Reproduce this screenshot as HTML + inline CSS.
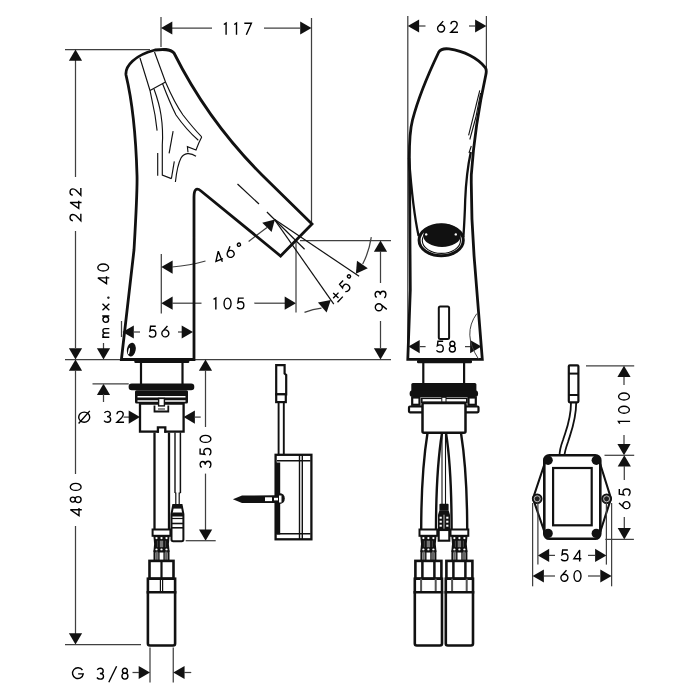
<!DOCTYPE html>
<html><head><meta charset="utf-8"><style>
html,body{margin:0;padding:0;background:#fff;width:700px;height:700px;overflow:hidden}
svg{display:block}
text{font-family:"Liberation Sans",sans-serif}
svg{will-change:transform}
</style></head><body>
<svg width="700" height="700" viewBox="0 0 700 700">
<rect width="700" height="700" fill="#fff"/>
<line x1="161" y1="17" x2="161" y2="47" stroke="#404040" stroke-width="1.25"/>
<line x1="311.5" y1="18" x2="311.5" y2="223" stroke="#404040" stroke-width="1.25"/>
<line x1="172" y1="28" x2="212" y2="28" stroke="#404040" stroke-width="1.25"/>
<line x1="264" y1="28" x2="300" y2="28" stroke="#404040" stroke-width="1.25"/>
<path d="M161.00,28.00 L172.30,21.40 L172.30,34.60 Z" fill="#111"/>
<path d="M311.50,28.00 L300.20,34.60 L300.20,21.40 Z" fill="#111"/>
<g transform="translate(237.5,28.7) rotate(0)" fill="none" stroke="#000" stroke-width="1.38" stroke-miterlimit="3"><path transform="translate(-14.30,-6.10)" d="M0.6,1.9 L2.9,0.5 L2.9,12.2"/><path transform="translate(-3.90,-6.10)" d="M0.6,1.9 L2.9,0.5 L2.9,12.2"/><path transform="translate(6.50,-6.10)" d="M0.3,0.7 L7.4,0.7 L2.3,12.2"/></g>
<line x1="65" y1="49.5" x2="150" y2="49.5" stroke="#404040" stroke-width="1.25"/>
<line x1="75.5" y1="60" x2="75.5" y2="177" stroke="#404040" stroke-width="1.25"/>
<line x1="75.5" y1="231" x2="75.5" y2="348" stroke="#404040" stroke-width="1.25"/>
<path d="M75.50,49.50 L82.10,60.80 L68.90,60.80 Z" fill="#111"/>
<path d="M75.50,359.50 L68.90,348.20 L82.10,348.20 Z" fill="#111"/>
<g transform="translate(75.45,204.85) rotate(-90)" fill="none" stroke="#000" stroke-width="1.38" stroke-miterlimit="3"><path transform="translate(-16.80,-6.10)" d="M0.9,3.5 C1.0,1.7 2.4,0.7 4.1,0.7 C6.0,0.7 7.2,1.9 7.2,3.6 C7.2,4.8 6.7,5.7 5.8,6.7 L0.8,11.5 L8.0,11.5"/><path transform="translate(-4.00,-6.10)" d="M8.0,9.4 L0.5,9.4 L6.3,0.8 L6.3,12.2"/><path transform="translate(8.80,-6.10)" d="M0.9,3.5 C1.0,1.7 2.4,0.7 4.1,0.7 C6.0,0.7 7.2,1.9 7.2,3.6 C7.2,4.8 6.7,5.7 5.8,6.7 L0.8,11.5 L8.0,11.5"/></g>
<line x1="65" y1="359.5" x2="391" y2="359.5" stroke="#404040" stroke-width="1.25"/>
<path d="M75.50,359.50 L82.10,370.80 L68.90,370.80 Z" fill="#111"/>
<line x1="75.5" y1="370" x2="75.5" y2="474" stroke="#404040" stroke-width="1.25"/>
<line x1="75.5" y1="526" x2="75.5" y2="634" stroke="#404040" stroke-width="1.25"/>
<path d="M75.50,644.50 L68.90,633.20 L82.10,633.20 Z" fill="#111"/>
<g transform="translate(75.7,499.4) rotate(-90)" fill="none" stroke="#000" stroke-width="1.38" stroke-miterlimit="3"><path transform="translate(-16.70,-6.10)" d="M8.0,9.4 L0.5,9.4 L6.3,0.8 L6.3,12.2"/><path transform="translate(-3.90,-6.10)" d="M1.20,3.2 A2.5,2.5 0 1 0 6.20,3.2 A2.5,2.5 0 1 0 1.20,3.2 Z M0.70,8.5 A3.0,3.0 0 1 0 6.70,8.5 A3.0,3.0 0 1 0 0.70,8.5 Z"/><path transform="translate(8.30,-6.10)" d="M0.70,6.1 A3.5,5.4 0 1 0 7.70,6.1 A3.5,5.4 0 1 0 0.70,6.1 Z"/></g>
<line x1="65" y1="644.5" x2="141" y2="644.5" stroke="#404040" stroke-width="1.25"/>
<g transform="translate(103.2,300.6) rotate(-90)" fill="none" stroke="#000" stroke-width="1.38" stroke-miterlimit="3"><path transform="translate(-37.35,-6.10)" d="M0.7,5.1 L0.7,12.2 M0.7,8.0 C0.7,6.6 1.5,5.8 2.8,5.8 C4.1,5.8 5.0,6.6 5.0,8.0 L5.0,12.2 M5.0,8.0 C5.0,6.6 5.9,5.8 7.2,5.8 C8.5,5.8 9.3,6.6 9.3,8.0 L9.3,12.2"/><path transform="translate(-22.85,-6.10)" d="M1.05,8.65 A2.85,2.85 0 1 0 6.75,8.65 A2.85,2.85 0 1 0 1.05,8.65 Z M7.4,5.1 L7.4,12.2"/><path transform="translate(-10.25,-6.10)" d="M0.5,5.4 L7.2,12.2 M7.2,5.4 L0.5,12.2"/><path transform="translate(1.95,-6.10)" d="M0.55,11.3 A0.45,0.45 0 1 0 1.45,11.3 A0.45,0.45 0 1 0 0.55,11.3 Z"/><path transform="translate(16.45,-6.10)" d="M8.0,9.4 L0.5,9.4 L6.3,0.8 L6.3,12.2"/><path transform="translate(28.95,-6.10)" d="M0.70,6.1 A3.5,5.4 0 1 0 7.70,6.1 A3.5,5.4 0 1 0 0.70,6.1 Z"/></g>
<line x1="103.5" y1="343" x2="103.5" y2="349" stroke="#404040" stroke-width="1.25"/>
<path d="M103.50,359.50 L96.90,348.20 L110.10,348.20 Z" fill="#111"/>
<path d="M103.50,383.75 L110.10,395.05 L96.90,395.05 Z" fill="#111"/>
<line x1="103.5" y1="394" x2="103.5" y2="402" stroke="#404040" stroke-width="1.25"/>
<line x1="92.5" y1="383.75" x2="128.75" y2="383.75" stroke="#404040" stroke-width="1.25"/>
<line x1="121.5" y1="321" x2="121.5" y2="337" stroke="#404040" stroke-width="1.25"/>
<path d="M122.50,332.00 L133.80,325.40 L133.80,338.60 Z" fill="#111"/>
<line x1="133" y1="332" x2="140" y2="332" stroke="#404040" stroke-width="1.25"/>
<g transform="translate(159,331.7) rotate(0)" fill="none" stroke="#000" stroke-width="1.38" stroke-miterlimit="3"><path transform="translate(-10.45,-6.10)" d="M7.2,0.7 L2.0,0.7 L1.4,5.3 C2.2,4.7 3.2,4.4 4.2,4.4 C6.3,4.4 7.3,5.9 7.3,7.9 C7.3,10.1 5.9,11.5 3.9,11.5 C2.5,11.5 1.3,10.9 0.5,9.9"/><path transform="translate(2.25,-6.10)" d="M0.60,7.8 A3.5,3.5 0 1 0 7.60,7.8 A3.5,3.5 0 1 0 0.60,7.8 Z M6.2,0.4 L1.1,6.0"/></g>
<line x1="178" y1="332" x2="182" y2="332" stroke="#404040" stroke-width="1.25"/>
<path d="M193.00,332.00 L181.70,338.60 L181.70,325.40 Z" fill="#111"/>
<line x1="161.3" y1="254" x2="161.3" y2="313.5" stroke="#404040" stroke-width="1.25"/>
<path d="M161.30,267.10 L172.60,260.50 L172.60,273.70 Z" fill="#111"/>
<path d="M172,267 Q190,265.5 205.5,261" fill="none" stroke="#404040" stroke-width="1.25" />
<g transform="translate(228.3,253.0) rotate(-21)" fill="none" stroke="#000" stroke-width="1.38" stroke-miterlimit="3"><path transform="translate(-15.00,-6.10)" d="M8.0,9.4 L0.5,9.4 L6.3,0.8 L6.3,12.2"/><path transform="translate(-2.20,-6.10)" d="M0.60,7.8 A3.5,3.5 0 1 0 7.60,7.8 A3.5,3.5 0 1 0 0.60,7.8 Z M6.2,0.4 L1.1,6.0"/><path transform="translate(10.80,-6.10)" d="M0.50,2.2 A1.6,1.6 0 1 0 3.70,2.2 A1.6,1.6 0 1 0 0.50,2.2 Z"/></g>
<line x1="248.6" y1="241.4" x2="267" y2="227.4" stroke="#404040" stroke-width="1.25"/>
<path d="M274.90,219.40 L271.58,232.06 L262.24,222.72 Z" fill="#111"/>
<path d="M161.30,303.20 L172.60,296.60 L172.60,309.80 Z" fill="#111"/>
<line x1="172" y1="303.2" x2="201.5" y2="303.2" stroke="#404040" stroke-width="1.25"/>
<g transform="translate(228.7,303.5) rotate(0)" fill="none" stroke="#000" stroke-width="1.38" stroke-miterlimit="3"><path transform="translate(-15.75,-6.10)" d="M0.6,1.9 L2.9,0.5 L2.9,12.2"/><path transform="translate(-5.35,-6.10)" d="M0.70,6.1 A3.5,5.4 0 1 0 7.70,6.1 A3.5,5.4 0 1 0 0.70,6.1 Z"/><path transform="translate(7.85,-6.10)" d="M7.2,0.7 L2.0,0.7 L1.4,5.3 C2.2,4.7 3.2,4.4 4.2,4.4 C6.3,4.4 7.3,5.9 7.3,7.9 C7.3,10.1 5.9,11.5 3.9,11.5 C2.5,11.5 1.3,10.9 0.5,9.9"/></g>
<line x1="254.3" y1="303.2" x2="285" y2="303.2" stroke="#404040" stroke-width="1.25"/>
<path d="M296.00,303.20 L284.70,309.80 L284.70,296.60 Z" fill="#111"/>
<line x1="296" y1="240.5" x2="296" y2="312.5" stroke="#404040" stroke-width="1.25"/>
<line x1="300" y1="240.5" x2="391" y2="240.5" stroke="#404040" stroke-width="1.25"/>
<path d="M380.50,240.50 L387.10,251.80 L373.90,251.80 Z" fill="#111"/>
<line x1="380.5" y1="251" x2="380.5" y2="283" stroke="#404040" stroke-width="1.25"/>
<g transform="translate(380.5,301) rotate(-90)" fill="none" stroke="#000" stroke-width="1.38" stroke-miterlimit="3"><path transform="translate(-10.35,-6.10)" d="M0.60,4.4 A3.5,3.5 0 1 0 7.60,4.4 A3.5,3.5 0 1 0 0.60,4.4 Z M7.1,6.2 L2.0,12.4"/><path transform="translate(2.65,-6.10)" d="M0.9,2.3 C1.6,1.2 2.7,0.7 3.9,0.7 C5.7,0.7 6.8,1.8 6.8,3.3 C6.8,4.9 5.5,5.9 3.5,5.9 C6.0,5.9 7.1,7.2 7.1,8.8 C7.1,10.5 5.8,11.5 3.9,11.5 C2.5,11.5 1.2,10.9 0.5,9.9"/></g>
<line x1="380.5" y1="321" x2="380.5" y2="348" stroke="#404040" stroke-width="1.25"/>
<path d="M380.50,359.50 L373.90,348.20 L387.10,348.20 Z" fill="#111"/>
<line x1="274.4" y1="219.3" x2="359.1" y2="276.3" stroke="#111" stroke-width="1.2"/>
<line x1="274.4" y1="219.3" x2="333.8" y2="304.2" stroke="#111" stroke-width="1.2"/>
<line x1="266.9" y1="212" x2="304.6" y2="249.3" stroke="#111" stroke-width="1.2"/>
<line x1="237.5" y1="184" x2="259" y2="204" stroke="#111" stroke-width="1.2"/>
<path d="M371.3,237.1 Q369,252 362.7,264" fill="none" stroke="#404040" stroke-width="1.25" />
<path d="M355.90,273.70 L356.98,260.66 L367.79,268.24 Z" fill="#111"/>
<path d="M304.5,312.3 Q313,309 321.5,308.1" fill="none" stroke="#404040" stroke-width="1.25" />
<path d="M330.80,300.00 L326.61,312.40 L317.94,302.44 Z" fill="#111"/>
<g transform="translate(343.2,288.3) rotate(-47)" fill="none" stroke="#000" stroke-width="1.38" stroke-miterlimit="3"><path transform="translate(-14.75,-6.10)" d="M4.5,2.0 L4.5,9.2 M0.6,5.6 L8.4,5.6 M0.6,11.5 L8.4,11.5"/><path transform="translate(-1.55,-6.10)" d="M7.2,0.7 L2.0,0.7 L1.4,5.3 C2.2,4.7 3.2,4.4 4.2,4.4 C6.3,4.4 7.3,5.9 7.3,7.9 C7.3,10.1 5.9,11.5 3.9,11.5 C2.5,11.5 1.3,10.9 0.5,9.9"/><path transform="translate(10.55,-6.10)" d="M0.50,2.2 A1.6,1.6 0 1 0 3.70,2.2 A1.6,1.6 0 1 0 0.50,2.2 Z"/></g>
<path d="M121.4,359.5 L134,250 C136,215 137.5,190 137,175 C136,140 132,100 126,75 C125,66 135,55 155,50 C163,49 170,48.5 174,53 C194,93 222,135 262,175 L312,224 L280.6,256 L201,191 C196,187 194,190 194,197 L194,359.5 Z" fill="none" stroke="#111" stroke-width="2.8" />
<path d="M140,58 L150,90.5 L155,115 L157.1,130.6" fill="none" stroke="#111" stroke-width="1.15" />
<path d="M154.5,52 L165.5,82 C172,97 178,108 183,115 C190,124 196,131 201.7,136.9" fill="none" stroke="#111" stroke-width="1.15" />
<path d="M150,90.5 L165.5,82" fill="none" stroke="#111" stroke-width="1.15" />
<path d="M154,89 C158,100 160,108 161,115 C162.5,125 163,135 162.3,145 L162.3,175.1 L171.4,178.6" fill="none" stroke="#111" stroke-width="1.15" />
<path d="M162.5,83.5 C168,98 172,107 176,115 C183,125 190,133 198.3,140.3" fill="none" stroke="#111" stroke-width="1.15" />
<path d="M201.7,136.9 L198.8,143 L196,150 L187.4,146.6 L188,152.3" fill="none" stroke="#111" stroke-width="1.15" />
<path d="M175.4,182 C176.5,172 178,163.7 181,158 C184,153 190,152 196,156.3" fill="none" stroke="#111" stroke-width="1.15" />
<line x1="173.1" y1="131.1" x2="169.1" y2="153.4" stroke="#111" stroke-width="1.15"/>
<line x1="157.7" y1="152.9" x2="157.7" y2="175.7" stroke="#111" stroke-width="1.15"/>
<line x1="174.3" y1="161.4" x2="171.4" y2="178.6" stroke="#111" stroke-width="1.15"/>
<ellipse cx="131.3" cy="349.6" rx="4.4" ry="6.9" fill="#111" transform="rotate(10 131.3 349.6)"/>
<ellipse cx="129.0" cy="351" rx="0.8" ry="3.4" fill="#fff" transform="rotate(10 129.0 351)"/>
<line x1="407.8" y1="16" x2="407.8" y2="358" stroke="#404040" stroke-width="1.25"/>
<line x1="486.4" y1="16" x2="486.4" y2="68" stroke="#404040" stroke-width="1.25"/>
<path d="M407.80,26.00 L419.10,19.40 L419.10,32.60 Z" fill="#111"/>
<line x1="419" y1="26" x2="425.5" y2="26" stroke="#404040" stroke-width="1.25"/>
<g transform="translate(447.5,26.8) rotate(0)" fill="none" stroke="#000" stroke-width="1.38" stroke-miterlimit="3"><path transform="translate(-10.50,-6.10)" d="M0.60,7.8 A3.5,3.5 0 1 0 7.60,7.8 A3.5,3.5 0 1 0 0.60,7.8 Z M6.2,0.4 L1.1,6.0"/><path transform="translate(2.50,-6.10)" d="M0.9,3.5 C1.0,1.7 2.4,0.7 4.1,0.7 C6.0,0.7 7.2,1.9 7.2,3.6 C7.2,4.8 6.7,5.7 5.8,6.7 L0.8,11.5 L8.0,11.5"/></g>
<line x1="469" y1="26" x2="475" y2="26" stroke="#404040" stroke-width="1.25"/>
<path d="M486.40,26.00 L475.10,32.60 L475.10,19.40 Z" fill="#111"/>
<path d="M407.8,359.3 L482.3,359.3 C480,330 477.5,300 474.8,265 C472.5,238 471,210 471.3,175 C473,150 477,115 485.8,75 C486.6,71.5 486.6,69.5 485.3,67.6 C478,58 464,51 449,48.9 C443,48.2 440.5,49.3 438.8,52 C434,62 419,95 412.5,120 C409.1,133 409,150 409.5,170 L410.3,290 Z" fill="none" stroke="#111" stroke-width="2.8" />
<path d="M409,158 C411,185 414,215 418.6,236" fill="none" stroke="#111" stroke-width="2.3" />
<path d="M470.8,152 C468,165 466,180 465.2,200 C464.8,215 464,228 463.4,237" fill="none" stroke="#111" stroke-width="2.3" />
<path d="M479.8,90.4 L468.6,135.4" fill="none" stroke="#111" stroke-width="1.1" />
<path d="M480.6,93 L475.8,117.5 L469.8,139.5" fill="none" stroke="#111" stroke-width="1.1" />
<path d="M471.3,146 L469,153" fill="none" stroke="#111" stroke-width="1.1" />
<ellipse cx="441.2" cy="240.2" rx="22.1" ry="15.5" fill="none" stroke="#111" stroke-width="3"/>
<ellipse cx="441.4" cy="240.5" rx="19.1" ry="12.9" fill="none" stroke="#111" stroke-width="1.1"/>
<ellipse cx="442" cy="235.4" rx="18.8" ry="11.6" fill="#111"/>
<circle cx="426.2" cy="234.4" r="1.2" fill="#fff"/><circle cx="455.8" cy="234.4" r="1.2" fill="#fff"/>
<rect x="438.8" y="306.6" width="10.3" height="32.3" rx="1.5" fill="none" stroke="#111" stroke-width="2"/>
<path d="M408.40,346.60 L419.70,340.00 L419.70,353.20 Z" fill="#111"/>
<line x1="419.5" y1="346.6" x2="425.6" y2="346.6" stroke="#404040" stroke-width="1.25"/>
<g transform="translate(446,346.6) rotate(0)" fill="none" stroke="#000" stroke-width="1.38" stroke-miterlimit="3"><path transform="translate(-10.05,-6.10)" d="M7.2,0.7 L2.0,0.7 L1.4,5.3 C2.2,4.7 3.2,4.4 4.2,4.4 C6.3,4.4 7.3,5.9 7.3,7.9 C7.3,10.1 5.9,11.5 3.9,11.5 C2.5,11.5 1.3,10.9 0.5,9.9"/><path transform="translate(2.65,-6.10)" d="M1.20,3.2 A2.5,2.5 0 1 0 6.20,3.2 A2.5,2.5 0 1 0 1.20,3.2 Z M0.70,8.5 A3.0,3.0 0 1 0 6.70,8.5 A3.0,3.0 0 1 0 0.70,8.5 Z"/></g>
<line x1="465" y1="346.6" x2="470.5" y2="346.6" stroke="#404040" stroke-width="1.25"/>
<path d="M481.40,346.60 L470.10,353.20 L470.10,340.00 Z" fill="#111"/>
<path d="M476.8,313.6 Q462,334 478.5,359" fill="none" stroke="#404040" stroke-width="1.0" />
<rect x="417" y="360" width="55" height="3.2" rx="1.2" fill="#111"/>
<line x1="423.3" y1="363" x2="423.3" y2="384" stroke="#111" stroke-width="2.2"/>
<line x1="464.1" y1="363" x2="464.1" y2="384" stroke="#111" stroke-width="2.2"/>
<rect x="411.3" y="383.1" width="65.1" height="9" rx="1.5" fill="#111"/>
<rect x="409.6" y="390.3" width="68.5" height="6.7" rx="3.3" fill="#111"/>
<rect x="412.2" y="397.5" width="7.3" height="7.3" fill="#fff" stroke="#111" stroke-width="2.2"/>
<rect x="468.5" y="397.5" width="7.3" height="7.3" fill="#fff" stroke="#111" stroke-width="2.2"/>
<rect x="421.8" y="398.3" width="45" height="4" fill="#fff" stroke="#111" stroke-width="1.6"/>
<rect x="409" y="406.5" width="69.5" height="5.8" rx="1" fill="none" stroke="#111" stroke-width="2.2"/>
<rect x="422.5" y="403" width="43" height="29.8" rx="1.5" fill="#fff" stroke="#111" stroke-width="2.5"/>
<rect x="441.8" y="397.3" width="4.2" height="4.6" fill="#fff" stroke="#111" stroke-width="1"/>
<path d="M427.5,433 C424,455 421.2,480 421.2,530" fill="none" stroke="#111" stroke-width="2.4" />
<path d="M442,433 C438.5,455 436,480 436,530" fill="none" stroke="#111" stroke-width="2.4" />
<path d="M446,433 C449.5,455 451.6,480 451.6,530" fill="none" stroke="#111" stroke-width="2.4" />
<path d="M461,433 C464.5,455 467.2,480 467.2,530" fill="none" stroke="#111" stroke-width="2.4" />
<line x1="442" y1="433" x2="442" y2="505" stroke="#111" stroke-width="1.1"/>
<line x1="445.5" y1="433" x2="445.5" y2="505" stroke="#111" stroke-width="1.1"/>
<rect x="439.40" y="503.7" width="9.2" height="6.8" rx="1" fill="#111"/>
<path d="M439.40,510.2 L448.60,510.2 L450.00,514.7 L450.00,530.2 L438.00,530.2 L438.00,514.7 Z" fill="#111"/>
<rect x="439.60" y="516.70" width="2.2" height="2" fill="#fff"/>
<rect x="446.20" y="516.70" width="2.2" height="2" fill="#fff"/>
<rect x="439.60" y="520.70" width="2.2" height="2" fill="#fff"/>
<rect x="446.20" y="520.70" width="2.2" height="2" fill="#fff"/>
<rect x="439.60" y="524.70" width="2.2" height="2" fill="#fff"/>
<rect x="446.20" y="524.70" width="2.2" height="2" fill="#fff"/>
<rect x="443.0" y="514.7" width="2" height="14" fill="#666"/>
<rect x="438.70" y="530.0" width="10.6" height="10.7" fill="#fff" stroke="#111" stroke-width="2.1"/>
<rect x="419.50" y="529.5" width="17.8" height="6.3" fill="#fff" stroke="#111" stroke-width="2"/>
<path d="M420.30,535.8 Q421.70,543.8 420.30,551.8 L436.50,551.8 Q435.10,543.8 436.50,535.8 Z" fill="#111"/>
<circle cx="423.40" cy="538.10" r="1.15" fill="#fff"/>
<circle cx="428.40" cy="538.10" r="1.15" fill="#fff"/>
<circle cx="433.40" cy="538.10" r="1.15" fill="#fff"/>
<circle cx="423.40" cy="549.70" r="1.15" fill="#fff"/>
<circle cx="428.40" cy="549.70" r="1.15" fill="#fff"/>
<circle cx="433.40" cy="549.70" r="1.15" fill="#fff"/>
<rect x="426.70" y="540.7" width="3.4" height="6.5" fill="#777"/>
<rect x="423.80" y="540.7" width="1.2" height="6.5" fill="#444"/>
<rect x="431.80" y="540.7" width="1.2" height="6.5" fill="#444"/>
<rect x="421.40" y="551.5" width="14" height="9.5" fill="#fff" stroke="#111" stroke-width="2"/>
<rect x="422.60" y="551.5" width="2.2" height="9.5" fill="#666"/>
<rect x="432.00" y="551.5" width="2.2" height="9.5" fill="#666"/>
<line x1="425.79999999999995" y1="551.5" x2="425.79999999999995" y2="561.0" stroke="#111" stroke-width="1.4"/>
<line x1="431.0" y1="551.5" x2="431.0" y2="561.0" stroke="#111" stroke-width="1.4"/>
<rect x="415.40" y="560.9" width="26" height="17.8" fill="#fff" stroke="#111" stroke-width="2.6"/>
<rect x="421.15" y="560.9" width="2.5" height="17.8" fill="#111"/>
<rect x="433.15" y="560.9" width="2.5" height="17.8" fill="#111"/>
<rect x="414.80" y="578.7" width="27.2" height="13.6" fill="#fff" stroke="#111" stroke-width="2.6"/>
<rect x="420.10" y="578.7" width="2" height="13.6" fill="#555"/>
<rect x="434.70" y="578.7" width="2" height="13.6" fill="#555"/>
<path d="M414.80,592.3 L414.80,643.5 Q414.80,645.5 416.80,645.5 L440.00,645.5 Q442.00,645.5 442.00,643.5 L442.00,592.3 Z" fill="#fff" stroke="#111" stroke-width="2.6"/>
<rect x="450.50" y="529.5" width="17.8" height="6.3" fill="#fff" stroke="#111" stroke-width="2"/>
<path d="M451.30,535.8 Q452.70,543.8 451.30,551.8 L467.50,551.8 Q466.10,543.8 467.50,535.8 Z" fill="#111"/>
<circle cx="454.40" cy="538.10" r="1.15" fill="#fff"/>
<circle cx="459.40" cy="538.10" r="1.15" fill="#fff"/>
<circle cx="464.40" cy="538.10" r="1.15" fill="#fff"/>
<circle cx="454.40" cy="549.70" r="1.15" fill="#fff"/>
<circle cx="459.40" cy="549.70" r="1.15" fill="#fff"/>
<circle cx="464.40" cy="549.70" r="1.15" fill="#fff"/>
<rect x="457.70" y="540.7" width="3.4" height="6.5" fill="#777"/>
<rect x="454.80" y="540.7" width="1.2" height="6.5" fill="#444"/>
<rect x="462.80" y="540.7" width="1.2" height="6.5" fill="#444"/>
<rect x="452.40" y="551.5" width="14" height="9.5" fill="#fff" stroke="#111" stroke-width="2"/>
<rect x="453.60" y="551.5" width="2.2" height="9.5" fill="#666"/>
<rect x="463.00" y="551.5" width="2.2" height="9.5" fill="#666"/>
<line x1="456.79999999999995" y1="551.5" x2="456.79999999999995" y2="561.0" stroke="#111" stroke-width="1.4"/>
<line x1="462.0" y1="551.5" x2="462.0" y2="561.0" stroke="#111" stroke-width="1.4"/>
<rect x="446.40" y="560.9" width="26" height="17.8" fill="#fff" stroke="#111" stroke-width="2.6"/>
<rect x="452.15" y="560.9" width="2.5" height="17.8" fill="#111"/>
<rect x="464.15" y="560.9" width="2.5" height="17.8" fill="#111"/>
<rect x="445.80" y="578.7" width="27.2" height="13.6" fill="#fff" stroke="#111" stroke-width="2.6"/>
<rect x="451.10" y="578.7" width="2" height="13.6" fill="#555"/>
<rect x="465.70" y="578.7" width="2" height="13.6" fill="#555"/>
<path d="M445.80,592.3 L445.80,643.5 Q445.80,645.5 447.80,645.5 L471.00,645.5 Q473.00,645.5 473.00,643.5 L473.00,592.3 Z" fill="#fff" stroke="#111" stroke-width="2.6"/>
<rect x="134.3" y="360" width="55" height="3" rx="1.2" fill="#111"/>
<line x1="141" y1="362.5" x2="141" y2="384" stroke="#111" stroke-width="2.2"/>
<line x1="182.5" y1="362.5" x2="182.5" y2="384" stroke="#111" stroke-width="2.2"/>
<rect x="128.6" y="383.6" width="65.7" height="6.6" rx="3.2" fill="#111"/>
<rect x="135" y="390.2" width="53" height="13.4" rx="1.5" fill="#111"/>
<line x1="137.5" y1="396.8" x2="185.5" y2="396.8" stroke="#fff" stroke-width="1.4"/>
<line x1="137.5" y1="401" x2="185.5" y2="401" stroke="#fff" stroke-width="1.4"/>
<rect x="140" y="403.6" width="43.6" height="28" fill="#fff" stroke="#111" stroke-width="2.3"/>
<rect x="158.9" y="428.5" width="5.4" height="5" fill="#fff"/>
<path d="M156.8,431.6 L157.9,431.6 L157.9,427.3 L165.3,427.3 L165.3,431.6 L166.4,431.6" fill="none" stroke="#111" stroke-width="2.3"/>
<rect x="158.6" y="398.4" width="5.8" height="7.5" fill="#fff" stroke="#111" stroke-width="1.4"/>
<path d="M154.5,405.5 L154.5,411.5 L168.3,411.5 L168.3,405.5" fill="none" stroke="#111" stroke-width="1.8"/>
<line x1="158" y1="409" x2="165" y2="409" stroke="#404040" stroke-width="1.2"/>
<g transform="translate(84.2,417.2) rotate(0)" fill="none" stroke="#000" stroke-width="1.38" stroke-miterlimit="3"><path transform="translate(-6.20,-6.10)" d="M0.70,6.1 A5.5,5.1 0 1 0 11.70,6.1 A5.5,5.1 0 1 0 0.70,6.1 Z M0.6,12.4 L11.8,-0.2"/></g>
<g transform="translate(113.8,416.8) rotate(0)" fill="none" stroke="#000" stroke-width="1.38" stroke-miterlimit="3"><path transform="translate(-10.25,-6.10)" d="M0.9,2.3 C1.6,1.2 2.7,0.7 3.9,0.7 C5.7,0.7 6.8,1.8 6.8,3.3 C6.8,4.9 5.5,5.9 3.5,5.9 C6.0,5.9 7.1,7.2 7.1,8.8 C7.1,10.5 5.8,11.5 3.9,11.5 C2.5,11.5 1.2,10.9 0.5,9.9"/><path transform="translate(2.25,-6.10)" d="M0.9,3.5 C1.0,1.7 2.4,0.7 4.1,0.7 C6.0,0.7 7.2,1.9 7.2,3.6 C7.2,4.8 6.7,5.7 5.8,6.7 L0.8,11.5 L8.0,11.5"/></g>
<line x1="123.5" y1="417.1" x2="129" y2="417.1" stroke="#404040" stroke-width="1.25"/>
<path d="M140.00,417.10 L128.70,423.70 L128.70,410.50 Z" fill="#111"/>
<path d="M183.60,417.10 L194.90,410.50 L194.90,423.70 Z" fill="#111"/>
<line x1="194.5" y1="417.1" x2="200.7" y2="417.1" stroke="#404040" stroke-width="1.25"/>
<line x1="154.5" y1="432.5" x2="154.5" y2="530" stroke="#111" stroke-width="2.3"/>
<line x1="169" y1="432.5" x2="169" y2="530" stroke="#111" stroke-width="2.3"/>
<line x1="175.0" y1="432.5" x2="175.0" y2="493" stroke="#111" stroke-width="1.4"/>
<line x1="180.4" y1="432.5" x2="180.4" y2="493" stroke="#111" stroke-width="1.5"/>
<path d="M175.0,493 L175.8,493 L175.8,505" fill="none" stroke="#111" stroke-width="1.2" />
<path d="M180.4,493 L179.2,493 L179.2,505" fill="none" stroke="#111" stroke-width="1.2" />
<path d="M173.2,505 L181.6,505 L183.4,514 L183.4,539.6 Q183.4,541.3 181.7,541.3 L173.2,541.3 Q171.5,541.3 171.5,539.6 L171.5,514 Z" fill="#fff" stroke="#111" stroke-width="2"/>
<rect x="173" y="505" width="8.8" height="3.6" fill="#111"/>
<path d="M172.3,512.5 L182.6,512.5 L183.4,516.5 L171.5,516.5 Z" fill="#111"/>
<line x1="171.5" y1="518.5" x2="183.4" y2="518.5" stroke="#111" stroke-width="1.2"/>
<line x1="171.5" y1="523.5" x2="183.4" y2="523.5" stroke="#111" stroke-width="1.6"/>
<line x1="171.5" y1="527.8" x2="183.4" y2="527.8" stroke="#111" stroke-width="1.6"/>
<rect x="152.60" y="529.5" width="17.8" height="6.3" fill="#fff" stroke="#111" stroke-width="2"/>
<path d="M153.40,535.8 Q154.80,543.8 153.40,551.8 L169.60,551.8 Q168.20,543.8 169.60,535.8 Z" fill="#111"/>
<circle cx="156.50" cy="538.10" r="1.15" fill="#fff"/>
<circle cx="161.50" cy="538.10" r="1.15" fill="#fff"/>
<circle cx="166.50" cy="538.10" r="1.15" fill="#fff"/>
<circle cx="156.50" cy="549.70" r="1.15" fill="#fff"/>
<circle cx="161.50" cy="549.70" r="1.15" fill="#fff"/>
<circle cx="166.50" cy="549.70" r="1.15" fill="#fff"/>
<rect x="159.80" y="540.7" width="3.4" height="6.5" fill="#777"/>
<rect x="156.90" y="540.7" width="1.2" height="6.5" fill="#444"/>
<rect x="164.90" y="540.7" width="1.2" height="6.5" fill="#444"/>
<rect x="154.50" y="551.5" width="14" height="9.5" fill="#fff" stroke="#111" stroke-width="2"/>
<rect x="155.70" y="551.5" width="2.2" height="9.5" fill="#666"/>
<rect x="165.10" y="551.5" width="2.2" height="9.5" fill="#666"/>
<line x1="158.9" y1="551.5" x2="158.9" y2="561.0" stroke="#111" stroke-width="1.4"/>
<line x1="164.1" y1="551.5" x2="164.1" y2="561.0" stroke="#111" stroke-width="1.4"/>
<rect x="149.50" y="560.9" width="24" height="17.8" fill="#fff" stroke="#111" stroke-width="2.6"/>
<rect x="160.40" y="560.9" width="2.2" height="17.8" fill="#111"/>
<rect x="147.90" y="578.7" width="27.2" height="13.6" fill="#fff" stroke="#111" stroke-width="2.6"/>
<line x1="160.4" y1="578.7" x2="160.4" y2="592.3" stroke="#111" stroke-width="1.2"/>
<line x1="162.6" y1="578.7" x2="162.6" y2="592.3" stroke="#111" stroke-width="1.2"/>
<path d="M147.90,592.3 L147.90,643.5 Q147.90,645.5 149.90,645.5 L173.10,645.5 Q175.10,645.5 175.10,643.5 L175.10,592.3 Z" fill="#fff" stroke="#111" stroke-width="2.6"/>
<path d="M205.50,359.50 L212.10,370.80 L198.90,370.80 Z" fill="#111"/>
<line x1="205.5" y1="370" x2="205.5" y2="427" stroke="#404040" stroke-width="1.25"/>
<g transform="translate(205.5,451.5) rotate(-90)" fill="none" stroke="#000" stroke-width="1.38" stroke-miterlimit="3"><path transform="translate(-16.80,-6.10)" d="M0.9,2.3 C1.6,1.2 2.7,0.7 3.9,0.7 C5.7,0.7 6.8,1.8 6.8,3.3 C6.8,4.9 5.5,5.9 3.5,5.9 C6.0,5.9 7.1,7.2 7.1,8.8 C7.1,10.5 5.8,11.5 3.9,11.5 C2.5,11.5 1.2,10.9 0.5,9.9"/><path transform="translate(-4.30,-6.10)" d="M7.2,0.7 L2.0,0.7 L1.4,5.3 C2.2,4.7 3.2,4.4 4.2,4.4 C6.3,4.4 7.3,5.9 7.3,7.9 C7.3,10.1 5.9,11.5 3.9,11.5 C2.5,11.5 1.3,10.9 0.5,9.9"/><path transform="translate(8.40,-6.10)" d="M0.70,6.1 A3.5,5.4 0 1 0 7.70,6.1 A3.5,5.4 0 1 0 0.70,6.1 Z"/></g>
<line x1="205.5" y1="473.6" x2="205.5" y2="530" stroke="#404040" stroke-width="1.25"/>
<path d="M205.60,540.70 L199.00,529.40 L212.20,529.40 Z" fill="#111"/>
<line x1="185.7" y1="540.7" x2="215.7" y2="540.7" stroke="#404040" stroke-width="1.25"/>
<line x1="150" y1="647.5" x2="150" y2="682.5" stroke="#404040" stroke-width="1.25"/>
<line x1="173.25" y1="647.5" x2="173.25" y2="682.5" stroke="#404040" stroke-width="1.25"/>
<path d="M150.00,672.50 L138.70,679.10 L138.70,665.90 Z" fill="#111"/>
<line x1="132.5" y1="672.5" x2="139" y2="672.5" stroke="#404040" stroke-width="1.25"/>
<path d="M173.25,672.50 L184.55,665.90 L184.55,679.10 Z" fill="#111"/>
<line x1="184" y1="672.5" x2="191.25" y2="672.5" stroke="#404040" stroke-width="1.25"/>
<g transform="translate(77.75,673.7) rotate(0)" fill="none" stroke="#000" stroke-width="1.38" stroke-miterlimit="3"><path transform="translate(-6.20,-6.10)" d="M10.9,2.6 A5.4,5.4 0 1 0 11.7,6.3 L6.6,6.3"/></g>
<g transform="translate(112.5,673.7) rotate(0)" fill="none" stroke="#000" stroke-width="1.38" stroke-miterlimit="3"><path transform="translate(-16.10,-6.10)" d="M0.9,2.3 C1.6,1.2 2.7,0.7 3.9,0.7 C5.7,0.7 6.8,1.8 6.8,3.3 C6.8,4.9 5.5,5.9 3.5,5.9 C6.0,5.9 7.1,7.2 7.1,8.8 C7.1,10.5 5.8,11.5 3.9,11.5 C2.5,11.5 1.2,10.9 0.5,9.9"/><path transform="translate(-4.10,-6.10)" d="M8.2,-1.4 L0.4,14.6"/><path transform="translate(8.70,-6.10)" d="M1.20,3.2 A2.5,2.5 0 1 0 6.20,3.2 A2.5,2.5 0 1 0 1.20,3.2 Z M0.70,8.5 A3.0,3.0 0 1 0 6.70,8.5 A3.0,3.0 0 1 0 0.70,8.5 Z"/></g>
<path d="M276.2,365.2 L284.6,365.2 L284.6,373.5 L286.2,375 L286.2,394.3 L276.2,394.3 Z" fill="#fff" stroke="#111" stroke-width="2.2"/>
<rect x="276.2" y="394.3" width="9.6" height="7.8" fill="#fff" stroke="#111" stroke-width="2.2"/>
<line x1="278.6" y1="402" x2="278.6" y2="455" stroke="#111" stroke-width="1.9"/>
<line x1="283.8" y1="402" x2="283.8" y2="455" stroke="#111" stroke-width="1.9"/>
<rect x="275.6" y="454.8" width="35.8" height="84.5" fill="#fff" stroke="#111" stroke-width="2.3"/>
<line x1="277" y1="460.8" x2="310.5" y2="460.8" stroke="#111" stroke-width="1.6"/>
<line x1="277" y1="533.8" x2="310.5" y2="533.8" stroke="#111" stroke-width="1.6"/>
<line x1="299.5" y1="455" x2="299.5" y2="539" stroke="#111" stroke-width="1.4"/>
<line x1="302.3" y1="455" x2="302.3" y2="539" stroke="#111" stroke-width="1.4"/>
<rect x="275.6" y="462.5" width="4.6" height="72" fill="#111"/>
<path d="M232.9,499.2 L242,495.6 L275,495.3 L275,503.1 L242,503 Z" fill="#111"/>
<rect x="265" y="497.3" width="7" height="3.8" fill="#fff"/>
<rect x="274" y="497.8" width="4" height="2.6" fill="#fff"/>
<path d="M279,493 Q284.8,493.3 284.8,498.6 Q284.8,503.8 279,504.2 Z" fill="#111"/>
<rect x="279" y="495.5" width="2.5" height="7" fill="#fff"/>
<rect x="568.8" y="365.3" width="9.6" height="37" rx="1" fill="#fff" stroke="#111" stroke-width="2.2"/>
<line x1="568.8" y1="373.6" x2="578.4" y2="373.6" stroke="#111" stroke-width="2"/>
<line x1="568.8" y1="395" x2="578.4" y2="395" stroke="#111" stroke-width="2"/>
<path d="M571,402.4 C571,420 566,430 563,440 C560,448 559.5,452 559.5,456" fill="none" stroke="#111" stroke-width="1.8" />
<path d="M576.2,402.4 C576.2,420 571,432 568,442 C565.5,449 564.5,452 564.5,456" fill="none" stroke="#111" stroke-width="1.8" />
<line x1="586" y1="365.8" x2="634.2" y2="365.8" stroke="#404040" stroke-width="1.25"/>
<path d="M624.00,365.80 L630.60,377.10 L617.40,377.10 Z" fill="#111"/>
<line x1="624" y1="377" x2="624" y2="385" stroke="#404040" stroke-width="1.25"/>
<g transform="translate(624,408.3) rotate(-90)" fill="none" stroke="#000" stroke-width="1.38" stroke-miterlimit="3"><path transform="translate(-16.00,-6.10)" d="M0.6,1.9 L2.9,0.5 L2.9,12.2"/><path transform="translate(-5.60,-6.10)" d="M0.70,6.1 A3.5,5.4 0 1 0 7.70,6.1 A3.5,5.4 0 1 0 0.70,6.1 Z"/><path transform="translate(7.60,-6.10)" d="M0.70,6.1 A3.5,5.4 0 1 0 7.70,6.1 A3.5,5.4 0 1 0 0.70,6.1 Z"/></g>
<line x1="624" y1="435" x2="624" y2="444" stroke="#404040" stroke-width="1.25"/>
<path d="M624.00,455.30 L617.40,444.00 L630.60,444.00 Z" fill="#111"/>
<line x1="604.5" y1="455.3" x2="634.2" y2="455.3" stroke="#404040" stroke-width="1.25"/>
<path d="M624.30,455.30 L630.90,466.60 L617.70,466.60 Z" fill="#111"/>
<line x1="624.3" y1="466" x2="624.3" y2="480" stroke="#404040" stroke-width="1.25"/>
<g transform="translate(624.7,498.8) rotate(-90)" fill="none" stroke="#000" stroke-width="1.38" stroke-miterlimit="3"><path transform="translate(-10.45,-6.10)" d="M0.60,7.8 A3.5,3.5 0 1 0 7.60,7.8 A3.5,3.5 0 1 0 0.60,7.8 Z M6.2,0.4 L1.1,6.0"/><path transform="translate(2.55,-6.10)" d="M7.2,0.7 L2.0,0.7 L1.4,5.3 C2.2,4.7 3.2,4.4 4.2,4.4 C6.3,4.4 7.3,5.9 7.3,7.9 C7.3,10.1 5.9,11.5 3.9,11.5 C2.5,11.5 1.3,10.9 0.5,9.9"/></g>
<line x1="624.3" y1="517" x2="624.3" y2="528" stroke="#404040" stroke-width="1.25"/>
<path d="M624.30,539.40 L617.70,528.10 L630.90,528.10 Z" fill="#111"/>
<line x1="605.3" y1="539.4" x2="633.9" y2="539.4" stroke="#404040" stroke-width="1.25"/>
<rect x="544.3" y="455.2" width="56" height="83.5" rx="5" fill="#fff" stroke="#111" stroke-width="2.6"/>
<circle cx="548.1" cy="460.2" r="4.7" fill="#111"/>
<circle cx="596.3" cy="460.2" r="4.7" fill="#111"/>
<circle cx="548.1" cy="533.4" r="4.7" fill="#111"/>
<circle cx="596.3" cy="533.4" r="4.7" fill="#111"/>
<rect x="553.1" y="468" width="38.6" height="57.3" fill="none" stroke="#111" stroke-width="2.2"/>
<path d="M544.5,464 L533,498.5 L544.5,532" fill="none" stroke="#111" stroke-width="2.1" />
<path d="M600.2,464 L611,498.5 L600.2,532" fill="none" stroke="#111" stroke-width="2.1" />
<circle cx="537.2" cy="498.8" r="4.6" fill="#222" stroke="#111" stroke-width="1.4"/>
<circle cx="537.2" cy="498.8" r="3.0" fill="none" stroke="#ddd" stroke-width="0.8"/>
<circle cx="606.6" cy="498.8" r="4.6" fill="#222" stroke="#111" stroke-width="1.4"/>
<circle cx="606.6" cy="498.8" r="3.0" fill="none" stroke="#ddd" stroke-width="0.8"/>
<line x1="537.9" y1="503" x2="537.9" y2="564.6" stroke="#404040" stroke-width="1.25"/>
<line x1="606.4" y1="503" x2="606.4" y2="564.6" stroke="#404040" stroke-width="1.25"/>
<line x1="532.6" y1="503" x2="532.6" y2="586.3" stroke="#404040" stroke-width="1.25"/>
<line x1="611.6" y1="503" x2="611.6" y2="586.3" stroke="#404040" stroke-width="1.25"/>
<path d="M537.90,555.40 L549.20,548.80 L549.20,562.00 Z" fill="#111"/>
<line x1="549" y1="555.4" x2="555" y2="555.4" stroke="#404040" stroke-width="1.25"/>
<g transform="translate(571,555.4) rotate(0)" fill="none" stroke="#000" stroke-width="1.38" stroke-miterlimit="3"><path transform="translate(-10.35,-6.10)" d="M7.2,0.7 L2.0,0.7 L1.4,5.3 C2.2,4.7 3.2,4.4 4.2,4.4 C6.3,4.4 7.3,5.9 7.3,7.9 C7.3,10.1 5.9,11.5 3.9,11.5 C2.5,11.5 1.3,10.9 0.5,9.9"/><path transform="translate(2.35,-6.10)" d="M8.0,9.4 L0.5,9.4 L6.3,0.8 L6.3,12.2"/></g>
<line x1="588" y1="555.4" x2="595" y2="555.4" stroke="#404040" stroke-width="1.25"/>
<path d="M606.40,555.40 L595.10,562.00 L595.10,548.80 Z" fill="#111"/>
<path d="M532.60,576.00 L543.90,569.40 L543.90,582.60 Z" fill="#111"/>
<line x1="544" y1="576" x2="555" y2="576" stroke="#404040" stroke-width="1.25"/>
<g transform="translate(571,576) rotate(0)" fill="none" stroke="#000" stroke-width="1.38" stroke-miterlimit="3"><path transform="translate(-10.70,-6.10)" d="M0.60,7.8 A3.5,3.5 0 1 0 7.60,7.8 A3.5,3.5 0 1 0 0.60,7.8 Z M6.2,0.4 L1.1,6.0"/><path transform="translate(2.30,-6.10)" d="M0.70,6.1 A3.5,5.4 0 1 0 7.70,6.1 A3.5,5.4 0 1 0 0.70,6.1 Z"/></g>
<line x1="588" y1="576" x2="600" y2="576" stroke="#404040" stroke-width="1.25"/>
<path d="M611.60,576.00 L600.30,582.60 L600.30,569.40 Z" fill="#111"/>
</svg></body></html>
